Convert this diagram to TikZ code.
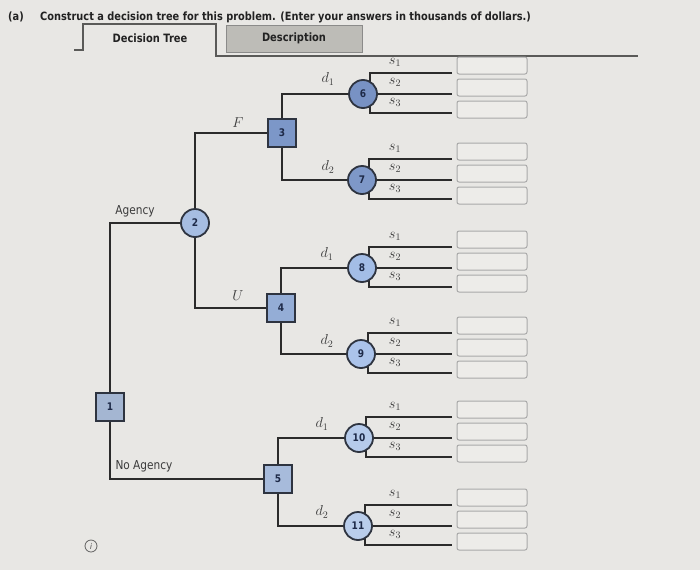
\documentclass[tikz,border=0pt]{standalone}
\usepackage{fontspec}
\setmainfont[FakeStretch=0.86]{DejaVu Sans}
\usetikzlibrary{calc}
\pgfdeclarelayer{bg}
\pgfsetlayers{bg,main}
\definecolor{bgc}{HTML}{E8E7E4}
\definecolor{linec}{HTML}{2B2B2B}
\definecolor{nodeb}{HTML}{2E3440}
\definecolor{numc}{HTML}{1E2A48}
\definecolor{labc}{HTML}{3A3A3A}
\definecolor{titlec}{HTML}{222222}
\definecolor{boxc}{HTML}{A9A9A9}
\definecolor{boxf}{HTML}{EDECE9}
\definecolor{tabg}{HTML}{BDBCB7}
\definecolor{tabl}{HTML}{5A5A58}
\definecolor{sqA}{HTML}{A4B6D2}
\definecolor{sqB}{HTML}{7C97C8}
\definecolor{sqC}{HTML}{94ADD6}
\definecolor{sqD}{HTML}{A7BBDB}
\definecolor{chA}{HTML}{A6BDE2}
\definecolor{chB}{HTML}{7892C4}
\definecolor{chC}{HTML}{7E98C8}
\definecolor{chD}{HTML}{A3BDE6}
\definecolor{chE}{HTML}{ABC3EA}
\definecolor{chF}{HTML}{B6CBEB}
\definecolor{chG}{HTML}{B9CDEB}
\begin{document}
\begin{tikzpicture}[x=1pt,y=-1pt,
  tree/.style={draw=linec,line width=2.3pt},
  sqn/.style={rectangle,draw=nodeb,line width=1.8pt,minimum size=28pt,inner sep=0pt,text=numc,font=\bfseries\fontsize{10.5}{12}\selectfont},
  chn/.style={circle,draw=nodeb,line width=1.8pt,minimum size=28pt,inner sep=0pt,text=numc,font=\bfseries\fontsize{10.5}{12}\selectfont},
  ans/.style={rectangle,rounded corners=2pt,draw=boxc,line width=1pt,fill=boxf,minimum width=70pt,minimum height=17pt,inner sep=0pt},
  lab/.style={font=\fontsize{14}{16}\selectfont,text=labc,inner sep=0pt},
  txt/.style={font=\fontsize{12.3}{14}\selectfont,text=labc,inner sep=0pt},
  tabt/.style={font=\bfseries\fontsize{11.5}{13}\selectfont,text=titlec,inner sep=0pt}]
\begin{pgfonlayer}{bg}
\fill[bgc] (0,0) rectangle (700,570);
\end{pgfonlayer}
\useasboundingbox (0,0) rectangle (700,570);
% title
\node[anchor=west,font=\bfseries\fontsize{11.4}{13}\selectfont,text=titlec,inner sep=0pt] (ta) at (8,17) {(a)};
\node[anchor=west,font=\bfseries\fontsize{11.4}{13}\selectfont,text=titlec,inner sep=0pt] (tt) at (40,17) {Construct a decision tree for this problem. (Enter your answers in thousands of dollars.)};
% tabs
\draw[tabl,line width=1.4pt] (74,50) -- (83,50) -- (83,24) -- (216,24) -- (216,56) -- (638,56);
\node[tabt] (tab1) at (150,38) {Decision Tree};
\node[rectangle,draw=tabl!70,fill=tabg,line width=0.8pt,minimum width=136pt,minimum height=27pt,tabt] (tab2) at (294,38.5) {Description};
% decision & chance nodes
\node[sqn,fill=sqA] (n1) at (110,407) {1};
\node[chn,fill=chA] (n2) at (195,223) {2};
\node[sqn,fill=sqB] (n3) at (282,133) {3};
\node[sqn,fill=sqC] (n4) at (281,308) {4};
\node[sqn,fill=sqD] (n5) at (278,479) {5};
\foreach \n/\x/\y/\c in {6/363/94/chB,7/362/180/chC,8/362/268/chD,9/361/354/chE,10/359/438/chF,11/358/526/chG}{
  \node[chn,fill=\c] (n\n) at (\x,\y) {\n};
  \coordinate (e\n a) at (452,\y-21);
  \coordinate (e\n b) at (452,\y);
  \coordinate (e\n c) at (452,\y+19);
  \begin{pgfonlayer}{bg}
  \draw[tree] (e\n a) -| ([xshift=7pt]n\n.center) |- (e\n c);
  \end{pgfonlayer}
  \draw[tree] (n\n) -- (e\n b);
  \node[lab] (s\n a) at (395,\y-32) {$s_1$};
  \node[lab] (s\n b) at (395,\y-12) {$s_2$};
  \node[lab] (s\n c) at (395,\y+8) {$s_3$};
  \node[ans] (a\n a) at (492,\y-28.5) {};
  \node[ans] (a\n b) at (492,\y-6.5) {};
  \node[ans] (a\n c) at (492,\y+15.5) {};
}
% connectors
\draw[tree] (n1) |- (n2);
\draw[tree] (n1) |- (n5);
\draw[tree] (n2) |- (n3);
\draw[tree] (n2) |- (n4);
\draw[tree] (n3) |- (n6);
\draw[tree] (n3) |- (n7);
\draw[tree] (n4) |- (n8);
\draw[tree] (n4) |- (n9);
\draw[tree] (n5) |- (n10);
\draw[tree] (n5) |- (n11);
% branch labels
\node[txt] (lag) at (135,211) {Agency};
\node[txt] (lna) at (144,466) {No Agency};
\node[lab] (lf) at (238,123) {$F$};
\node[lab] (lu) at (238,296) {$U$};
\node[lab] (d3a) at (328,79) {$d_1$};
\node[lab] (d3b) at (328,167) {$d_2$};
\node[lab] (d4a) at (327,254) {$d_1$};
\node[lab] (d4b) at (327,341) {$d_2$};
\node[lab] (d5a) at (322,424) {$d_1$};
\node[lab] (d5b) at (322,512) {$d_2$};
% info icon
\node[circle,draw=labc!80,line width=0.8pt,minimum size=12pt,inner sep=0pt,text=labc,font=\itshape\fontsize{8}{8}\selectfont] (info) at (91,546) {i};
\end{tikzpicture}
\end{document}
